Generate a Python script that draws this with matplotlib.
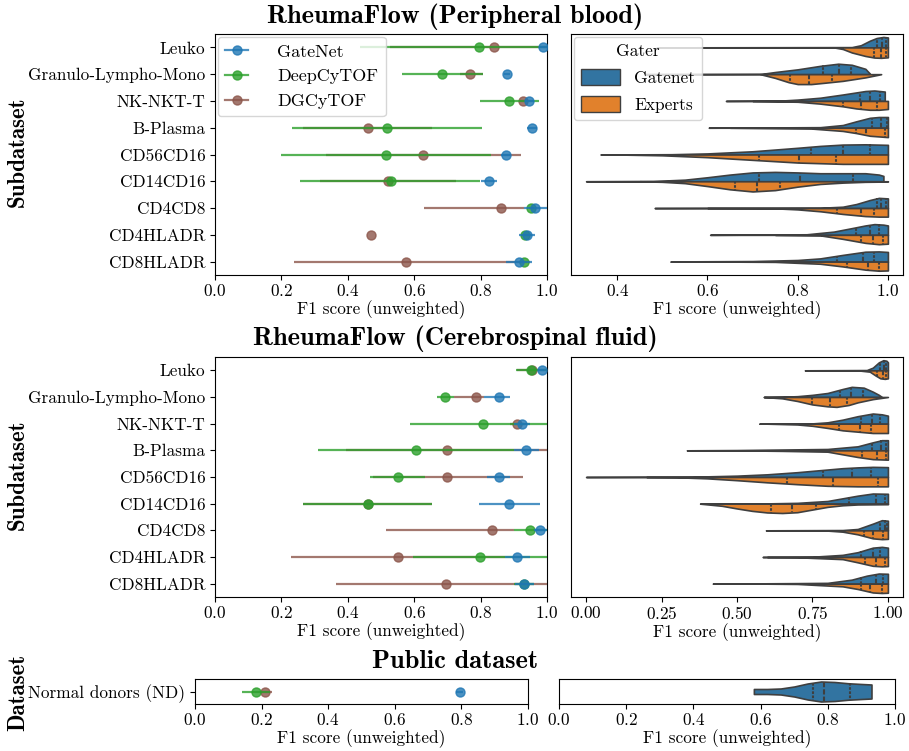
import numpy as np
import matplotlib.pyplot as plt
from matplotlib.lines import Line2D
from matplotlib.patches import Patch

plt.rcParams['font.family'] = 'cmr10'
plt.rcParams['axes.formatter.use_mathtext'] = True
plt.rcParams['mathtext.fontset'] = 'cm'
plt.rcParams['font.size'] = 12.4
plt.rcParams['axes.unicode_minus'] = False
plt.rcParams['xtick.major.pad'] = 2.5
plt.rcParams['axes.labelpad'] = 1.0

subsets = ['Leuko', 'Granulo-Lympho-Mono', 'NK-NKT-T', 'B-Plasma', 'CD56CD16',
           'CD14CD16', 'CD4CD8', 'CD4HLADR', 'CD8HLADR']
models = ['GateNet', 'DeepCyTOF', 'DGCyTOF']
model_colors = ['#1f77b4', '#2ca02c', '#8c564b']
gaters = ['Gatenet', 'Experts']
gater_colors = ['#3274a1', '#e1812c']

# --- mean F1 + CI per model, peripheral blood ---
pb_gatenet = [0.988, 0.879, 0.947, 0.955, 0.875, 0.825, 0.963, 0.940, 0.915]
pb_gatenet_lo = [0.975, 0.870, 0.935, 0.940, 0.860, 0.800, 0.930, 0.915, 0.876]
pb_gatenet_hi = [1.000, 0.888, 0.960, 0.970, 0.890, 0.850, 1.000, 0.963, 0.955]
pb_deepcytof = [0.796, 0.684, 0.886, 0.519, 0.516, 0.529, 0.953, 0.935, 0.932]
pb_deepcytof_lo = [0.437, 0.563, 0.797, 0.231, 0.199, 0.256, 0.945, 0.925, 0.925]
pb_deepcytof_hi = [1.000, 0.807, 0.975, 0.805, 0.832, 0.799, 0.960, 0.945, 0.940]
pb_dgcytof = [0.839, 0.767, 0.928, 0.460, 0.628, 0.520, 0.861, 0.469, 0.576]
pb_dgcytof_lo = [0.528, 0.739, 0.920, 0.264, 0.335, 0.317, 0.631, 0.469, 0.238]
pb_dgcytof_hi = [1.000, 0.807, 0.935, 0.653, 0.922, 0.727, 0.930, 0.469, 0.950]

# --- cerebrospinal fluid ---
csf_gatenet = [0.985, 0.854, 0.926, 0.937, 0.854, 0.887, 0.979, 0.910, 0.930]
csf_gatenet_lo = [0.975, 0.810, 0.900, 0.900, 0.820, 0.794, 0.960, 0.872, 0.905]
csf_gatenet_hi = [0.995, 0.890, 0.950, 0.975, 0.890, 0.980, 1.000, 0.950, 0.960]
csf_deepcytof = [0.953, 0.693, 0.807, 0.605, 0.550, 0.460, 0.949, 0.797, 0.930]
csf_deepcytof_lo = [0.908, 0.668, 0.586, 0.309, 0.467, 0.266, 0.900, 0.596, 0.900]
csf_deepcytof_hi = [1.000, 0.719, 1.000, 0.900, 0.633, 0.655, 1.000, 1.000, 0.960]
csf_dgcytof = [0.955, 0.786, 0.910, 0.700, 0.700, 0.460, 0.833, 0.552, 0.696]
csf_dgcytof_lo = [0.910, 0.720, 0.890, 0.394, 0.477, 0.266, 0.514, 0.228, 0.365]
csf_dgcytof_hi = [1.000, 0.810, 0.930, 1.000, 0.928, 0.655, 0.900, 0.872, 1.000]

# --- public dataset (normal donors) ---
public_sets = ['Normal donors (ND)']
nd_gatenet, nd_gatenet_lo, nd_gatenet_hi = [0.795], [0.785], [0.805]
nd_deepcytof, nd_deepcytof_lo, nd_deepcytof_hi = [0.183], [0.140], [0.225]
nd_dgcytof, nd_dgcytof_lo, nd_dgcytof_hi = [0.210], [0.195], [0.230]

# --- per-sample F1 density outlines (score, half width) + quartiles ---
pb_gn_x = [[0.488, 0.92, 0.94, 0.96, 0.975, 0.99, 1.0],
           [0.46, 0.72, 0.75, 0.80, 0.85, 0.89, 0.92, 0.95, 0.96],
           [0.641, 0.76, 0.80, 0.85, 0.90, 0.95, 0.97, 0.993],
           [0.603, 0.85, 0.90, 0.93, 0.96, 0.98, 1.0],
           [0.363, 0.52, 0.60, 0.70, 0.80, 0.85, 0.90, 0.95, 1.0],
           [0.331, 0.48, 0.55, 0.60, 0.65, 0.70, 0.75, 0.80, 0.85, 0.90, 0.95, 0.98, 0.99],
           [0.483, 0.85, 0.90, 0.93, 0.96, 0.98, 1.0],
           [0.606, 0.82, 0.88, 0.92, 0.95, 0.97, 0.99, 1.0],
           [0.518, 0.57, 0.70, 0.80, 0.85, 0.90, 0.95, 0.98, 1.0]]
pb_gn_w = [[0, 0.01, 0.08, 0.25, 0.35, 0.39, 0.37],
           [0, 0.01, 0.08, 0.18, 0.31, 0.39, 0.35, 0.20, 0.02],
           [0, 0.01, 0.05, 0.12, 0.24, 0.37, 0.39, 0.35],
           [0, 0.02, 0.10, 0.24, 0.37, 0.40, 0.40],
           [0, 0.01, 0.04, 0.12, 0.25, 0.32, 0.37, 0.38, 0.36],
           [0, 0.01, 0.06, 0.15, 0.25, 0.33, 0.35, 0.33, 0.30, 0.30, 0.30, 0.25, 0.20],
           [0, 0.01, 0.05, 0.15, 0.30, 0.38, 0.36],
           [0, 0.02, 0.12, 0.25, 0.35, 0.40, 0.38, 0.35],
           [0, 0.01, 0.02, 0.06, 0.12, 0.25, 0.37, 0.38, 0.36]]
pb_gn_q = [[0.975, 0.988, 0.996], [0.857, 0.892, 0.919], [0.938, 0.960, 0.983],
           [0.965, 0.985, 0.997], [0.830, 0.900, 0.960], [0.715, 0.805, 0.923],
           [0.975, 0.985, 0.995], [0.930, 0.960, 0.980], [0.887, 0.944, 0.970]]

pb_ex_x = [[0.88, 0.90, 0.92, 0.95, 0.97, 0.985, 1.0],
           [0.717, 0.75, 0.78, 0.80, 0.83, 0.86, 0.90, 0.95, 0.985],
           [0.70, 0.80, 0.85, 0.90, 0.93, 0.96, 0.98, 1.0],
           [0.65, 0.83, 0.90, 0.93, 0.96, 1.0],
           [0.40, 0.50, 0.60, 0.70, 0.80, 0.90, 1.0],
           [0.45, 0.50, 0.55, 0.60, 0.65, 0.70, 0.75, 0.80, 0.85, 0.90, 0.95, 1.0],
           [0.60, 0.75, 0.80, 0.85, 0.90, 0.95, 0.98, 1.0],
           [0.75, 0.85, 0.90, 0.95, 0.98, 1.0],
           [0.65, 0.75, 0.85, 0.90, 0.95, 0.98, 1.0]]
pb_ex_w = [[0, 0.06, 0.19, 0.32, 0.38, 0.39, 0.37],
           [0, 0.14, 0.30, 0.37, 0.37, 0.32, 0.25, 0.12, 0],
           [0, 0.03, 0.10, 0.20, 0.28, 0.33, 0.33, 0.30],
           [0, 0.03, 0.12, 0.20, 0.30, 0.35],
           [0, 0.03, 0.10, 0.20, 0.30, 0.35, 0.35],
           [0, 0.02, 0.07, 0.18, 0.30, 0.38, 0.33, 0.20, 0.10, 0.05, 0.02, 0.01],
           [0, 0.01, 0.05, 0.12, 0.22, 0.30, 0.32, 0.32],
           [0, 0.02, 0.15, 0.30, 0.35, 0.33],
           [0, 0.01, 0.08, 0.18, 0.30, 0.34, 0.33]]
pb_ex_q = [[0.970, 0.985, 0.995], [0.783, 0.824, 0.875], [0.900, 0.941, 0.975],
           [0.930, 0.952, 0.993], [0.715, 0.803, 0.885], [0.661, 0.709, 0.761],
           [0.887, 0.940, 0.970], [0.940, 0.968, 0.990], [0.910, 0.955, 0.980]]

csf_gn_x = [[0.725, 0.93, 0.95, 0.97, 0.985, 0.995, 1.0],
            [0.589, 0.65, 0.70, 0.75, 0.80, 0.85, 0.88, 0.92, 0.95, 0.97, 0.98],
            [0.574, 0.75, 0.80, 0.85, 0.90, 0.95, 0.98, 1.0],
            [0.334, 0.50, 0.65, 0.80, 0.90, 0.95, 0.98, 1.0],
            [0.0, 0.35, 0.50, 0.60, 0.70, 0.80, 0.85, 0.90, 0.95, 1.0],
            [0.378, 0.60, 0.70, 0.80, 0.85, 0.90, 0.95, 1.0],
            [0.596, 0.85, 0.90, 0.95, 0.98, 1.0],
            [0.585, 0.75, 0.85, 0.90, 0.95, 0.98, 1.0],
            [0.42, 0.70, 0.80, 0.88, 0.93, 0.97, 1.0]]
csf_gn_w = [[0, 0.01, 0.10, 0.30, 0.38, 0.36, 0.30],
            [0, 0.01, 0.03, 0.08, 0.15, 0.30, 0.38, 0.35, 0.20, 0.08, 0],
            [0, 0.01, 0.05, 0.15, 0.28, 0.38, 0.35, 0.30],
            [0, 0.01, 0.03, 0.05, 0.15, 0.30, 0.38, 0.38],
            [0, 0.01, 0.05, 0.10, 0.18, 0.28, 0.33, 0.36, 0.38, 0.37],
            [0, 0.01, 0.03, 0.10, 0.20, 0.30, 0.38, 0.37],
            [0, 0.01, 0.05, 0.25, 0.38, 0.36],
            [0, 0.01, 0.08, 0.18, 0.35, 0.38, 0.35],
            [0, 0.02, 0.03, 0.15, 0.30, 0.38, 0.37]]
csf_gn_q = [[0.975, 0.988, 0.995], [0.840, 0.877, 0.917], [0.912, 0.948, 0.975],
            [0.948, 0.978, 0.995], [0.785, 0.882, 0.945], [0.870, 0.960, 0.990],
            [0.975, 0.990, 0.997], [0.910, 0.950, 0.975], [0.910, 0.960, 0.985]]

csf_ex_x = [[0.90, 0.94, 0.96, 0.975, 0.99, 1.0],
            [0.589, 0.65, 0.70, 0.75, 0.80, 0.83, 0.87, 0.90, 0.95, 1.0],
            [0.60, 0.70, 0.75, 0.80, 0.85, 0.90, 0.95, 1.0],
            [0.50, 0.65, 0.80, 0.85, 0.90, 0.95, 1.0],
            [0.20, 0.30, 0.40, 0.50, 0.60, 0.70, 0.80, 0.90, 1.0],
            [0.378, 0.45, 0.50, 0.55, 0.60, 0.65, 0.70, 0.75, 0.80, 0.85, 0.90, 1.0],
            [0.70, 0.80, 0.85, 0.90, 0.95, 0.98, 1.0],
            [0.60, 0.70, 0.85, 0.90, 0.95, 0.98, 1.0],
            [0.60, 0.70, 0.85, 0.90, 0.95, 0.98, 1.0]]
csf_ex_w = [[0, 0.05, 0.20, 0.30, 0.32, 0.30],
            [0, 0.05, 0.15, 0.28, 0.35, 0.37, 0.30, 0.20, 0.08, 0],
            [0, 0.03, 0.08, 0.16, 0.25, 0.30, 0.35, 0.35],
            [0, 0.02, 0.05, 0.15, 0.25, 0.33, 0.35],
            [0, 0.01, 0.05, 0.12, 0.20, 0.27, 0.33, 0.35, 0.35],
            [0, 0.08, 0.18, 0.27, 0.33, 0.35, 0.32, 0.22, 0.12, 0.06, 0.03, 0.02],
            [0, 0.01, 0.05, 0.15, 0.30, 0.33, 0.32],
            [0, 0.01, 0.08, 0.20, 0.33, 0.35, 0.34],
            [0, 0.01, 0.10, 0.20, 0.33, 0.35, 0.34]]
csf_ex_q = [[0.965, 0.985, 0.995], [0.749, 0.809, 0.864], [0.838, 0.906, 0.945],
            [0.915, 0.965, 0.995], [0.667, 0.818, 0.967], [0.611, 0.683, 0.763],
            [0.920, 0.950, 0.985], [0.925, 0.960, 0.990], [0.910, 0.940, 0.980]]

nd_gn_x = [0.58, 0.62, 0.66, 0.70, 0.74, 0.78, 0.82, 0.86, 0.90, 0.93]
nd_gn_w = [0.10, 0.10, 0.12, 0.20, 0.32, 0.40, 0.38, 0.33, 0.30, 0.28]
nd_gn_q = [0.755, 0.790, 0.865]

W, H = 909, 751
fig = plt.figure(figsize=(W / 100, H / 100), dpi=100)


def px_axes(x0, y0, x1, y1):
    return fig.add_axes([x0 / W, 1 - y1 / H, (x1 - x0) / W, (y1 - y0) / H])


def points(ax, labels, means, los, his):
    # DGCyTOF underneath, GateNet on top
    order = [2, 1, 0]
    for k in order:
        m = np.array(means[k])
        y = np.arange(len(m))
        err = np.vstack([m - np.array(los[k]), np.array(his[k]) - m])
        ax.errorbar(m, y, xerr=err, fmt='o', color=model_colors[k], ms=6.5,
                    elinewidth=1.6, alpha=0.8, zorder=3 + (2 - k))
    ax.set_yticks(range(len(labels)))
    ax.set_yticklabels(labels)
    ax.set_ylim(len(labels) - 0.5, -0.5)
    ax.set_xlim(0, 1)
    ax.set_xticks(np.arange(0, 1.01, 0.2))
    ax.set_xlabel('F1 score (unweighted)')


def half_violin(ax, i, xs, ws, q, color, side):
    xs = np.array(xs)
    ws = np.array(ws)
    ax.fill_between(xs, i, i + side * ws, facecolor=color, edgecolor='#3f3f3f',
                    lw=1.2, zorder=2)
    for j, v in enumerate(q):
        w = np.interp(v, xs, ws)
        dash = (2.5, 1) if j == 1 else (1.25, 0.75)
        ax.plot([v, v], [i, i + side * w], color='#3f3f3f', lw=1.5,
                dashes=dash, zorder=3)


def violins(ax, gx, gw, gq, ex, ew, eq):
    for i in range(len(gx)):
        half_violin(ax, i, gx[i], gw[i], gq[i], gater_colors[0], -1)
        half_violin(ax, i, ex[i], ew[i], eq[i], gater_colors[1], 1)
    ax.set_ylim(len(gx) - 0.5, -0.5)
    ax.set_yticks([])
    ax.set_xlabel('F1 score (unweighted)')


def title(y, s):
    fig.text(455 / W, 1 - y / H, s, ha='center', va='center',
             family='cmb10', fontsize=19)


def ylab(y, s):
    fig.text(18 / W, 1 - y / H, s, rotation=90, ha='center', va='center',
             family='cmb10', fontsize=16.5)


# top row: peripheral blood
ax1 = px_axes(215, 34, 547, 275)
points(ax1, subsets, [pb_gatenet, pb_deepcytof, pb_dgcytof],
       [pb_gatenet_lo, pb_deepcytof_lo, pb_dgcytof_lo],
       [pb_gatenet_hi, pb_deepcytof_hi, pb_dgcytof_hi])
handles = [Line2D([], [], color=c, marker='o', ms=6.5, lw=1.6, alpha=0.8)
           for c in model_colors]
ax1.legend(handles, models, loc='upper left', handlelength=1.3,
           handletextpad=1.6, borderaxespad=0.15, fontsize=13,
           labelspacing=0.5)

ax2 = px_axes(571, 34, 903, 275)
violins(ax2, pb_gn_x, pb_gn_w, pb_gn_q, pb_ex_x, pb_ex_w, pb_ex_q)
ax2.set_xticks([0.4, 0.6, 0.8, 1.0])
ax2.legend([Patch(facecolor=c, edgecolor='#3f3f3f') for c in gater_colors],
           gaters, title='Gater', loc='upper left', borderaxespad=0.15,
           handlelength=2.3, handleheight=1.0, fontsize=12.5, title_fontsize=12.5,
           labelspacing=0.6)
title(17, 'RheumaFlow (Peripheral blood)')
ylab(152, 'Subdataset')

# middle row: cerebrospinal fluid
ax3 = px_axes(215, 357, 547, 597)
points(ax3, subsets, [csf_gatenet, csf_deepcytof, csf_dgcytof],
       [csf_gatenet_lo, csf_deepcytof_lo, csf_dgcytof_lo],
       [csf_gatenet_hi, csf_deepcytof_hi, csf_dgcytof_hi])
ax4 = px_axes(571, 357, 903, 597)
violins(ax4, csf_gn_x, csf_gn_w, csf_gn_q, csf_ex_x, csf_ex_w, csf_ex_q)
ax4.set_xticks([0.0, 0.25, 0.5, 0.75, 1.0])
title(339, 'RheumaFlow (Cerebrospinal fluid)')
ylab(475, 'Subdataset')

# bottom row: public dataset
ax5 = px_axes(195, 679, 528, 704)
points(ax5, public_sets, [nd_gatenet, nd_deepcytof, nd_dgcytof],
       [nd_gatenet_lo, nd_deepcytof_lo, nd_dgcytof_lo],
       [nd_gatenet_hi, nd_deepcytof_hi, nd_dgcytof_hi])
ax6 = px_axes(559, 679, 895, 704)
xs, ws = np.array(nd_gn_x), np.array(nd_gn_w)
ax6.fill_between(xs, -ws, ws, facecolor=gater_colors[0], edgecolor='#3f3f3f', lw=1.2)
for j, v in enumerate(nd_gn_q):
    w = np.interp(v, xs, ws)
    ax6.plot([v, v], [-w, w], color='#3f3f3f', lw=1.5,
             dashes=(2.5, 1) if j == 1 else (1.25, 0.75))
ax6.set_ylim(0.5, -0.5)
ax6.set_yticks([])
ax6.set_xlim(0, 1)
ax6.set_xticks(np.arange(0, 1.01, 0.2))
ax6.set_xlabel('F1 score (unweighted)')
title(662, 'Public dataset')
ylab(692, 'Dataset')

fig.savefig('out.png', dpi=100)
